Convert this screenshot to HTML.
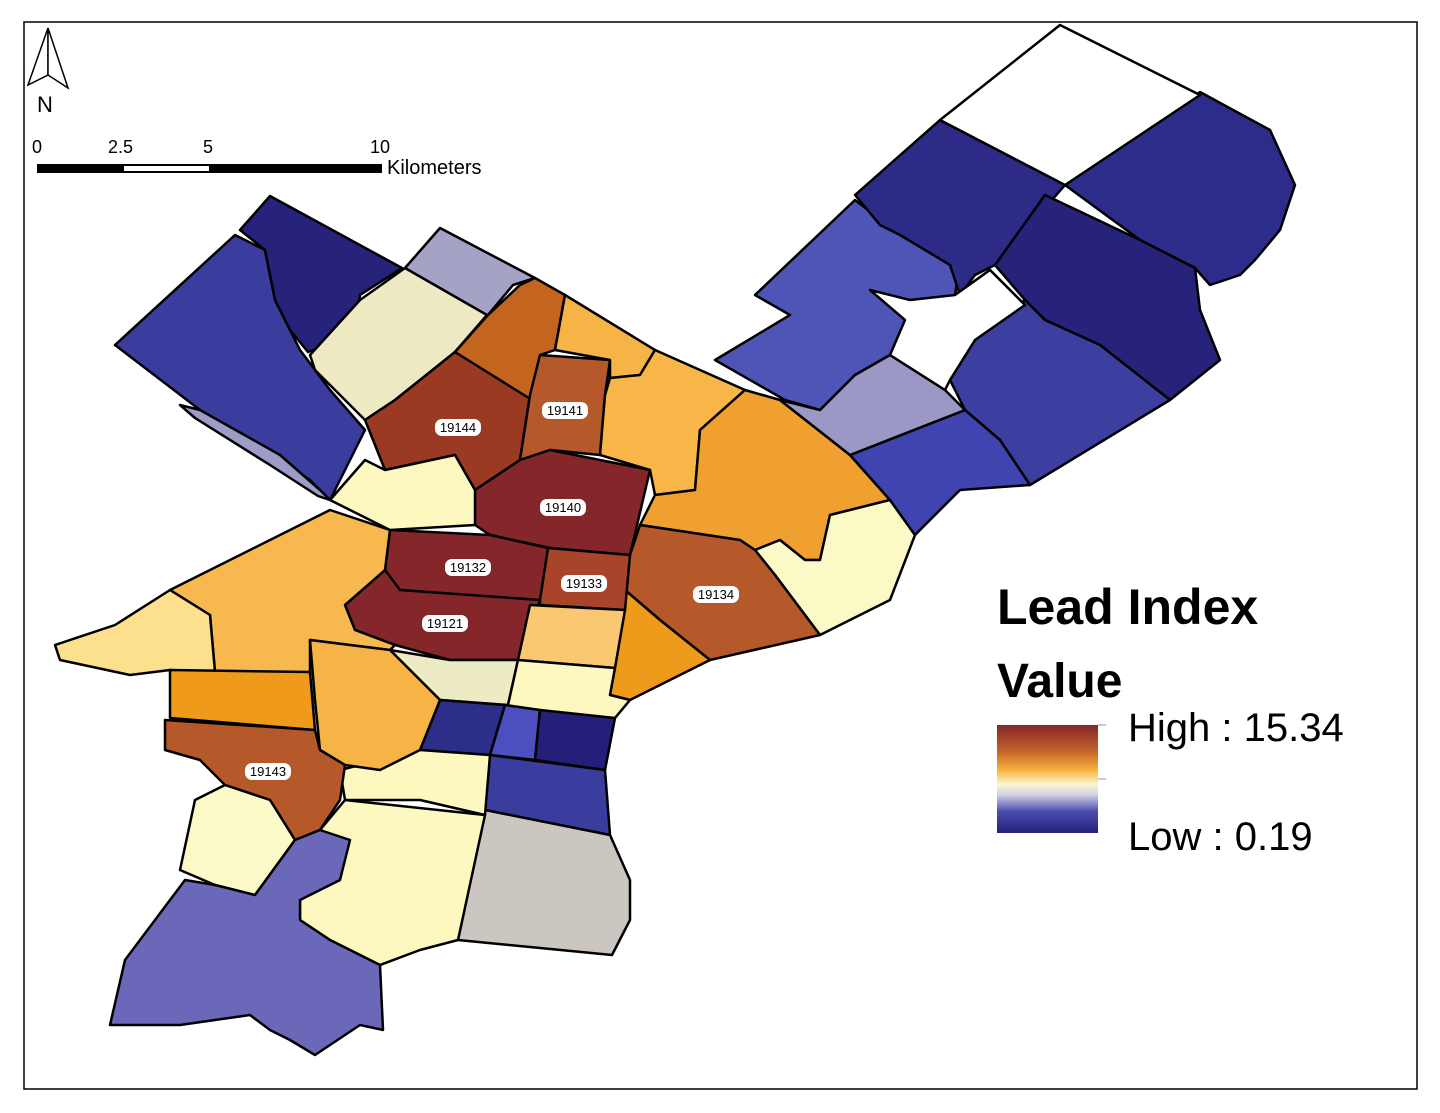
<!DOCTYPE html>
<html><head><meta charset="utf-8"><style>
html,body{margin:0;padding:0;background:#fff;}
svg{display:block;font-family:"Liberation Sans",Arial,sans-serif;}
</style></head><body>
<svg width="1440" height="1113" viewBox="0 0 1440 1113" xmlns="http://www.w3.org/2000/svg">
<defs>
<linearGradient id="g" x1="0" y1="0" x2="0" y2="1">
<stop offset="0" stop-color="#86262a"/>
<stop offset="0.25" stop-color="#c8662a"/>
<stop offset="0.42" stop-color="#f6b440"/>
<stop offset="0.55" stop-color="#fbf6d0"/>
<stop offset="0.65" stop-color="#d0cfe2"/>
<stop offset="0.8" stop-color="#4a4db0"/>
<stop offset="1" stop-color="#25207a"/>
</linearGradient>
</defs>
<rect x="24" y="22" width="1393" height="1067" fill="#fff" stroke="#000" stroke-width="1.5"/>
<g stroke="#000" stroke-width="2.5" stroke-linejoin="round">
<polygon fill="#3b3d9e" points="115,345 235,235 265,250 275,300 300,350 330,390 365,430 330,500 310,480 280,460 200,410"/>
<polygon fill="#27237a" points="240,230 270,196 402,268 360,295 355,335 308,352 290,330 275,300 265,250"/>
<polygon fill="#9c9cc6" points="180,405 200,410 280,455 320,490 330,500 318,496 270,465 195,418"/>
<polygon fill="#a5a3c5" points="405,268 440,228 535,278 513,285 487,316 455,300 420,280"/>
<polygon fill="#ede9c3" points="310,355 360,300 405,268 487,315 455,352 395,400 365,420 330,385 315,370"/>
<polygon fill="#9b3a22" points="365,420 395,400 455,352 530,395 520,460 475,490 455,455 385,470 375,445"/>
<polygon fill="#c4651f" points="455,352 487,316 520,285 535,278 565,295 555,350 540,355 532,400"/>
<polygon fill="#b5582a" points="540,355 610,360 605,395 600,455 550,450 520,460 530,395"/>
<polygon fill="#f6b447" points="555,350 565,295 655,350 640,375 610,378 610,360"/>
<polygon fill="#f8b648" points="600,455 605,395 610,378 640,375 655,350 745,390 700,430 695,490 655,495 650,470"/>
<polygon fill="#85262a" points="475,490 520,460 550,450 650,470 630,555 550,548 490,535 475,525"/>
<polygon fill="#f0a030" points="640,525 655,495 695,490 700,430 745,390 780,400 850,455 890,500 830,515 820,560 805,560 780,540 755,550 740,540"/>
<polygon fill="#fbf9c5" points="755,550 780,540 805,560 820,560 830,515 890,500 915,535 890,600 820,635 775,575"/>
<polygon fill="#b5582a" points="630,555 640,525 740,540 755,550 775,575 820,635 710,660 660,620 625,590"/>
<polygon fill="#ee9a1a" points="610,665 625,590 660,620 710,660 630,700 610,695"/>
<polygon fill="#a8442a" points="540,592 548,548 630,555 625,610 540,605"/>
<polygon fill="#85262a" points="390,530 490,535 548,548 540,600 450,595 400,590 385,570"/>
<polygon fill="#85262a" points="345,605 385,570 400,590 540,600 520,660 450,660 395,645 355,630"/>
<polygon fill="#f9c870" points="518,660 530,605 625,610 615,668"/>
<polygon fill="#ecebc3" points="390,650 450,660 518,660 508,705 440,700"/>
<polygon fill="#fdf8c0" points="508,705 518,660 615,668 610,695 630,700 615,718 505,718"/>
<polygon fill="#2d2d8a" points="420,750 440,700 505,705 490,755"/>
<polygon fill="#4b4fbf" points="490,755 505,705 540,710 535,760"/>
<polygon fill="#251f7a" points="535,760 540,710 615,718 605,770"/>
<polygon fill="#3b3d9e" points="485,810 490,755 605,770 610,835"/>
<polygon fill="#cbc7c0" points="458,940 485,810 610,835 630,880 630,920 612,955"/>
<polygon fill="#fdf8c0" points="345,800 340,770 420,750 490,755 485,815 420,800"/>
<polygon fill="#fdf8c0" points="300,900 320,830 345,800 485,815 458,940 420,950 380,965 330,940 300,920"/>
<polygon fill="#fdf8c0" points="330,500 365,460 385,470 455,455 475,490 475,525 390,530 340,505"/>
<polygon fill="#f7b94f" points="170,590 330,510 390,530 385,570 345,605 355,630 395,645 390,650 310,640 310,675 215,672 210,615"/>
<polygon fill="#fde08d" points="55,645 115,625 170,590 210,615 215,672 170,670 130,675 60,660"/>
<polygon fill="#ef9a1a" points="170,670 310,672 315,730 170,718"/>
<polygon fill="#f6b447" points="310,640 390,650 440,700 420,750 380,770 345,765 320,750 315,700"/>
<polygon fill="#b5582a" points="165,720 315,730 320,750 345,765 340,800 320,830 295,840 270,800 225,785 200,760 165,750"/>
<polygon fill="#fcf9c8" points="180,870 195,800 225,785 270,800 295,840 255,895 215,885"/>
<polygon fill="#6b68b9" points="110,1025 125,960 185,880 215,885 255,895 295,840 320,830 350,840 340,880 300,900 300,920 330,940 380,965 383,1030 360,1025 315,1055 290,1040 270,1030 250,1015 180,1025"/>
<polygon fill="#4f55b7" points="715,360 790,315 755,295 855,200 900,235 940,235 960,265 955,295 990,270 1025,305 975,340 950,380 890,355 855,375 820,410 785,400"/>
<polygon fill="#2e2a87" points="855,195 940,120 1065,185 995,265 975,275 960,295 950,265 900,235 880,225"/>
<polygon fill="#2e2c8a" points="1065,185 1200,92 1270,130 1295,185 1280,230 1255,260 1240,275 1210,285 1195,268 1140,240"/>
<polygon fill="#28237a" points="995,265 1045,195 1140,240 1195,268 1200,310 1220,360 1170,400 1100,345 1045,320 1025,300"/>
<polygon fill="#3d3fa0" points="950,380 975,340 1000,320 1025,300 1045,320 1100,345 1170,400 1030,485 1000,440 965,410"/>
<polygon fill="#4044b0" points="850,455 965,410 1000,440 1030,485 960,490 915,535 890,500"/>
<polygon fill="#9b98c6" points="780,400 820,410 855,375 890,355 945,390 965,410 850,455"/>
<polygon fill="#ffffff" points="940,120 1060,25 1200,95 1065,185"/>
<polygon fill="#ffffff" points="870,290 910,300 955,295 990,270 1025,305 975,340 950,380 945,390 890,355 905,320"/>
</g>
<g font-size="13" text-anchor="middle">
<g><rect x="435" y="419" width="46" height="17" rx="7" fill="#fff"/><text x="458" y="432">19144</text></g>
<g><rect x="542" y="402" width="46" height="17" rx="7" fill="#fff"/><text x="565" y="415">19141</text></g>
<g><rect x="540" y="499" width="46" height="17" rx="7" fill="#fff"/><text x="563" y="512">19140</text></g>
<g><rect x="445" y="559" width="46" height="17" rx="7" fill="#fff"/><text x="468" y="572">19132</text></g>
<g><rect x="561" y="575" width="46" height="17" rx="7" fill="#fff"/><text x="584" y="588">19133</text></g>
<g><rect x="693" y="586" width="46" height="17" rx="7" fill="#fff"/><text x="716" y="599">19134</text></g>
<g><rect x="422" y="615" width="46" height="17" rx="7" fill="#fff"/><text x="445" y="628">19121</text></g>
<g><rect x="245" y="763" width="46" height="17" rx="7" fill="#fff"/><text x="268" y="776">19143</text></g>
</g>
<polygon points="48,28 28,85 48,75" fill="#fff" stroke="#000" stroke-width="1.5"/>
<polygon points="48,28 68,88 48,75" fill="#fff" stroke="#000" stroke-width="1.5"/>
<text x="37" y="112" font-size="22">N</text>
<text x="32" y="153" font-size="18">0</text>
<text x="108" y="153" font-size="18">2.5</text>
<text x="203" y="153" font-size="18">5</text>
<text x="370" y="153" font-size="18">10</text>
<rect x="37" y="164" width="345" height="9" fill="#000"/>
<rect x="124" y="166" width="85" height="5" fill="#fff"/>
<text x="387" y="174" font-size="20">Kilometers</text>
<text x="997" y="624" font-size="50" font-weight="bold">Lead Index</text>
<text x="997" y="697" font-size="48" font-weight="bold">Value</text>
<rect x="997" y="725" width="101" height="108" fill="url(#g)"/>
<line x1="1098" y1="725" x2="1106" y2="725" stroke="#999"/>
<line x1="1098" y1="779" x2="1106" y2="779" stroke="#999"/>
<text x="1128" y="741" font-size="40">High : 15.34</text>
<text x="1128" y="850" font-size="40">Low : 0.19</text>
</svg>
</body></html>
